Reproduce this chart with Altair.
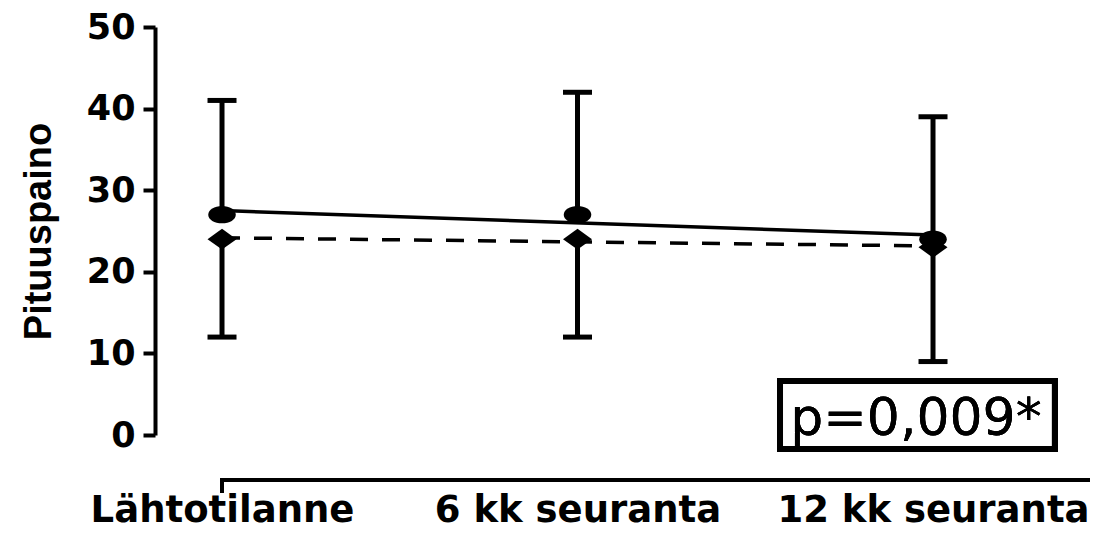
import json
import altair as alt
import numpy as np
import pandas as pd

# ---- data ----
categories = ["Lähtotilanne", "6 kk seuranta", "12 kk seuranta"]
time_index = [0, 1, 2]
circle_mean = [27, 27, 24]
circle_upper = [41, 42, 39]
diamond_mean = [24, 24, 23]
diamond_lower = [12, 12, 9]
y_ticks = [0, 10, 20, 30, 40, 50]
p_label = "p=0,009*"
y_title = "Pituuspaino"

df = pd.DataFrame({
    "t": time_index,
    "cm": circle_mean,
    "cu": circle_upper,
    "dm": diamond_mean,
    "dl": diamond_lower,
})

# linear trend lines fitted to the two series (drawn between first and last time point)
ends = [time_index[0], time_index[-1]]
fit_c = np.polyval(np.polyfit(time_index, circle_mean, 1), ends)
fit_d = np.polyval(np.polyfit(time_index, diamond_mean, 1), ends)
fit_df = pd.DataFrame({"t": ends, "fc": fit_c, "fd": fit_d})

X_MIN, X_MAX = -0.1885, 2.4416
xscale = alt.Scale(domain=[X_MIN, X_MAX], nice=False, zero=False)
yscale = alt.Scale(domain=[0, 50], nice=False, zero=False)

label_expr = json.dumps(categories) + "[round(datum.value)]"
xaxis = alt.Axis(
    values=time_index, labelExpr=label_expr, title=None, grid=False,
    domain=False, ticks=False, tickSize=0, labelPadding=86,
    labelBaseline="alphabetic", labelAlign="center", labelLimit=0,
    labelFont="DejaVu Sans", labelFontWeight="bold", labelFontSize=37,
    labelColor="black", labelFlush=False, labelOverlap=False,
)
yaxis = alt.Axis(
    values=y_ticks, title=y_title, grid=False,
    domain=True, domainColor="black", domainWidth=4,
    ticks=True, tickColor="black", tickWidth=4, tickSize=12,
    labelPadding=8, labelFont="DejaVu Sans", labelFontWeight="bold",
    labelFontSize=35, labelColor="black", labelLimit=0,
    titleFont="Liberation Sans", titleFontWeight="bold", titleFontSize=38,
    titleColor="black", titleAngle=-90, titleX=-105, titleY=204,
    titleAlign="center", titleBaseline="alphabetic", titleLimit=0,
)


def X(f):
    return alt.X(f, type="quantitative", scale=xscale, axis=xaxis)


def Y(f):
    return alt.Y(f, type="quantitative", scale=yscale, axis=yaxis)


base = alt.Chart(df)
fit_base = alt.Chart(fit_df)

ellipse = ("M-1,0 C-1,-0.348 -0.552,-0.63 0,-0.63 C0.552,-0.63 1,-0.348 1,0 "
           "C1,0.348 0.552,0.63 0,0.63 C-0.552,0.63 -1,0.348 -1,0 Z")
diamond = "M-1,0 L0,-0.72 L1,0 L0,0.72 Z"

solid = fit_base.mark_line(color="black", strokeWidth=3.5).encode(
    x=X("t"), y=Y("fc"))
dashed = fit_base.mark_line(color="black", strokeWidth=3.5,
                            strokeDash=[18, 14]).encode(x=X("t"), y=Y("fd"))

err_up = base.mark_rule(color="black", strokeWidth=5).encode(
    x=X("t"), y=Y("cm"), y2="cu")
err_dn = base.mark_rule(color="black", strokeWidth=5).encode(
    x=X("t"), y=Y("dm"), y2="dl")
cap_up = base.mark_tick(orient="horizontal", color="black", size=29,
                        thickness=5, opacity=1).encode(x=X("t"), y=Y("cu"))
cap_dn = base.mark_tick(orient="horizontal", color="black", size=29,
                        thickness=5, opacity=1).encode(x=X("t"), y=Y("dl"))

pts_c = base.mark_point(shape=ellipse, size=760, filled=True, color="black",
                        opacity=1).encode(x=X("t"), y=Y("cm"))
pts_d = base.mark_point(shape=diamond, size=841, filled=True, color="black",
                        opacity=1).encode(x=X("t"), y=Y("dm"))

# separate x-axis line (starts at the first category) with its single tick
x_line = base.mark_rule(color="black", strokeWidth=4).encode(
    x=alt.XDatum(-0.0056, type="quantitative"),
    x2=alt.X2Datum(X_MAX),
    y=alt.value(453),
)
x_tick = base.mark_rule(color="black", strokeWidth=4).encode(
    x=alt.XDatum(0, type="quantitative"),
    y=alt.value(451), y2=alt.value(466),
)

# p-value box
p_box = base.mark_rect(filled=False, stroke="black", strokeWidth=6).encode(
    x=alt.XDatum(1.5696, type="quantitative"), x2=alt.X2Datum(2.343),
    y=alt.YDatum(6.62, type="quantitative"), y2=alt.Y2Datum(-1.716),
)
p_text = base.mark_text(font="DejaVu Sans", fontSize=52, color="black",
                        align="center", baseline="alphabetic").encode(
    x=alt.XDatum(1.952, type="quantitative"),
    y=alt.YDatum(0, type="quantitative"),
    text=alt.value(p_label),
)

chart = alt.layer(
    solid, dashed, err_up, err_dn, cap_up, cap_dn, pts_c, pts_d,
    x_line, x_tick, p_box, p_text,
).properties(
    width=935, height=408,
    autosize=alt.AutoSizeParams(type="none"),
    padding={"left": 147, "top": 19, "right": 0, "bottom": 98},
    background="white",
).configure_view(stroke=None)

chart.save("out.html", embed_options={"renderer": "svg", "actions": False})
